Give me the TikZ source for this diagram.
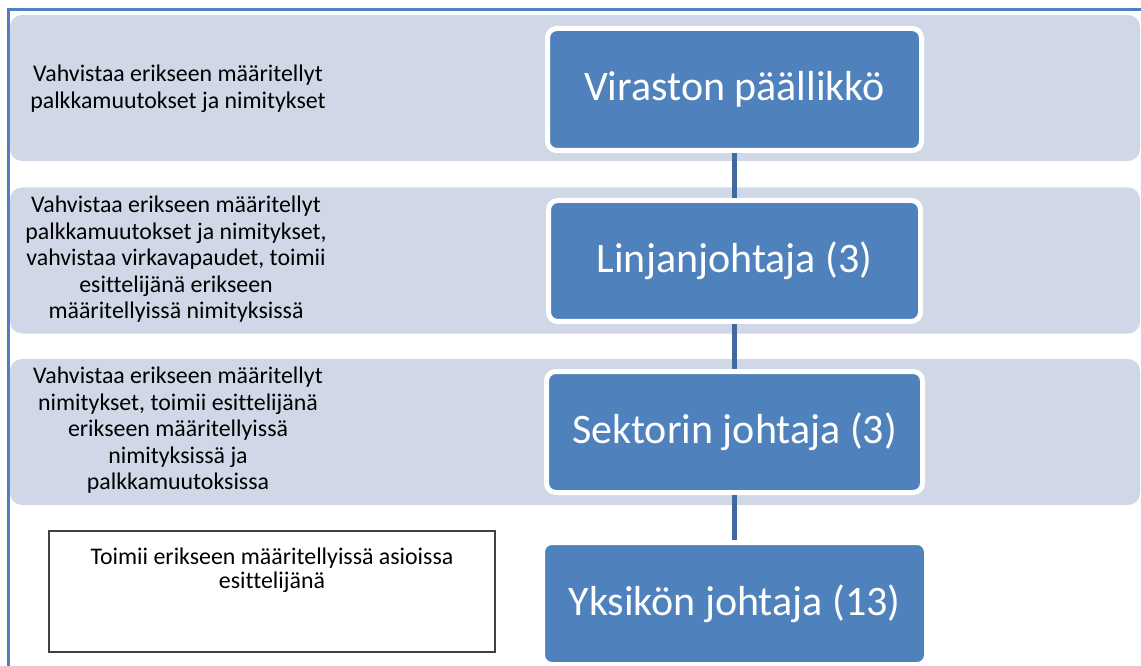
\documentclass[tikz,border=0pt]{standalone}
\usepackage{fontspec}
\setmainfont{Carlito}[Ligatures=NoCommon]
\definecolor{bandfill}{HTML}{D0D8E8}
\definecolor{boxfill}{HTML}{4F81BD}
\definecolor{linkcol}{HTML}{41699E}
\definecolor{framecol}{HTML}{4F81BD}
\definecolor{notecol}{HTML}{404040}
\tikzset{
  band/.style={fill=bandfill, draw=none, rounded corners=9pt, inner sep=0pt},
  bandtext/.style={align=center, inner sep=0pt, text=black,
    font=\fontsize{17.9pt}{19.9pt}\selectfont},
  rolebox/.style={fill=boxfill, draw=white, line width=3.75pt, rounded corners=7pt,
    text=white, inner sep=0pt, font=\fontsize{31.5pt}{37pt}\selectfont},
  link/.style={draw=linkcol, line width=3.75pt},
  notebox/.style={draw=notecol, line width=0.8pt, fill=white, inner sep=0pt},
  notetext/.style={align=center, inner sep=0pt, text=black,
    font=\fontsize{17.9pt}{18pt}\selectfont}
}
\begin{document}
\begin{tikzpicture}[x=0.75pt,y=-0.75pt]
\useasboundingbox (0,0) rectangle (1141,666);
\clip (0,0) rectangle (1141,666);

% outer frame (runs past the page on the right and bottom)
\draw[framecol, line width=1.6pt] (8.5,1000) -- (8.5,9.5) -- (1200,9.5);

% horizontal bands
\node[band, minimum width=847.5pt, minimum height=109.5pt] (band1) at (575,88) {};
\node[band, minimum width=847.5pt, minimum height=109.5pt] (band2) at (575,260.5) {};
\node[band, minimum width=847.5pt, minimum height=109.5pt] (band3) at (575,432) {};

% descriptions
\node[bandtext] (d1) at (178,88.5) {Vahvistaa erikseen määritellyt\\palkkamuutokset ja nimitykset};
\node[bandtext] (d2) at (176,259.5) {Vahvistaa erikseen määritellyt\\palkkamuutokset ja nimitykset,\\vahvistaa virkavapaudet, toimii\\esittelijänä erikseen\\määritellyissä nimityksissä};
\node[bandtext] (d3) at (178,430.5) {Vahvistaa erikseen määritellyt\\nimitykset, toimii esittelijänä\\erikseen määritellyissä\\nimityksissä ja\\palkkamuutoksissa};

% note box
\node[notebox, minimum width=334.5pt, minimum height=90.75pt] (note) at (272,591.5) {};
\node[notetext] (n1) at (272,570) {Toimii erikseen määritellyissä asioissa\\esittelijänä};

% role boxes
\node[rolebox, minimum width=280.5pt, minimum height=91.5pt] (r1) at (734.5,89.5) {Viraston päällikkö};
\node[rolebox, minimum width=279pt, minimum height=90.75pt] (r2) at (734.5,261) {Linjanjohtaja (3)};
\node[rolebox, minimum width=282pt, minimum height=90.75pt] (r3) at (734.5,432) {Sektorin johtaja (3)};
\node[rolebox, minimum width=288pt, minimum height=91.5pt] (r4) at (734.5,603.5) {Yksikön johtaja (13)};

% connectors
\draw[link] (r1.south) -- (r2.north);
\draw[link] (r2.south) -- (r3.north);
\draw[link] (r3.south) -- (r4.north);
\end{tikzpicture}
\end{document}
